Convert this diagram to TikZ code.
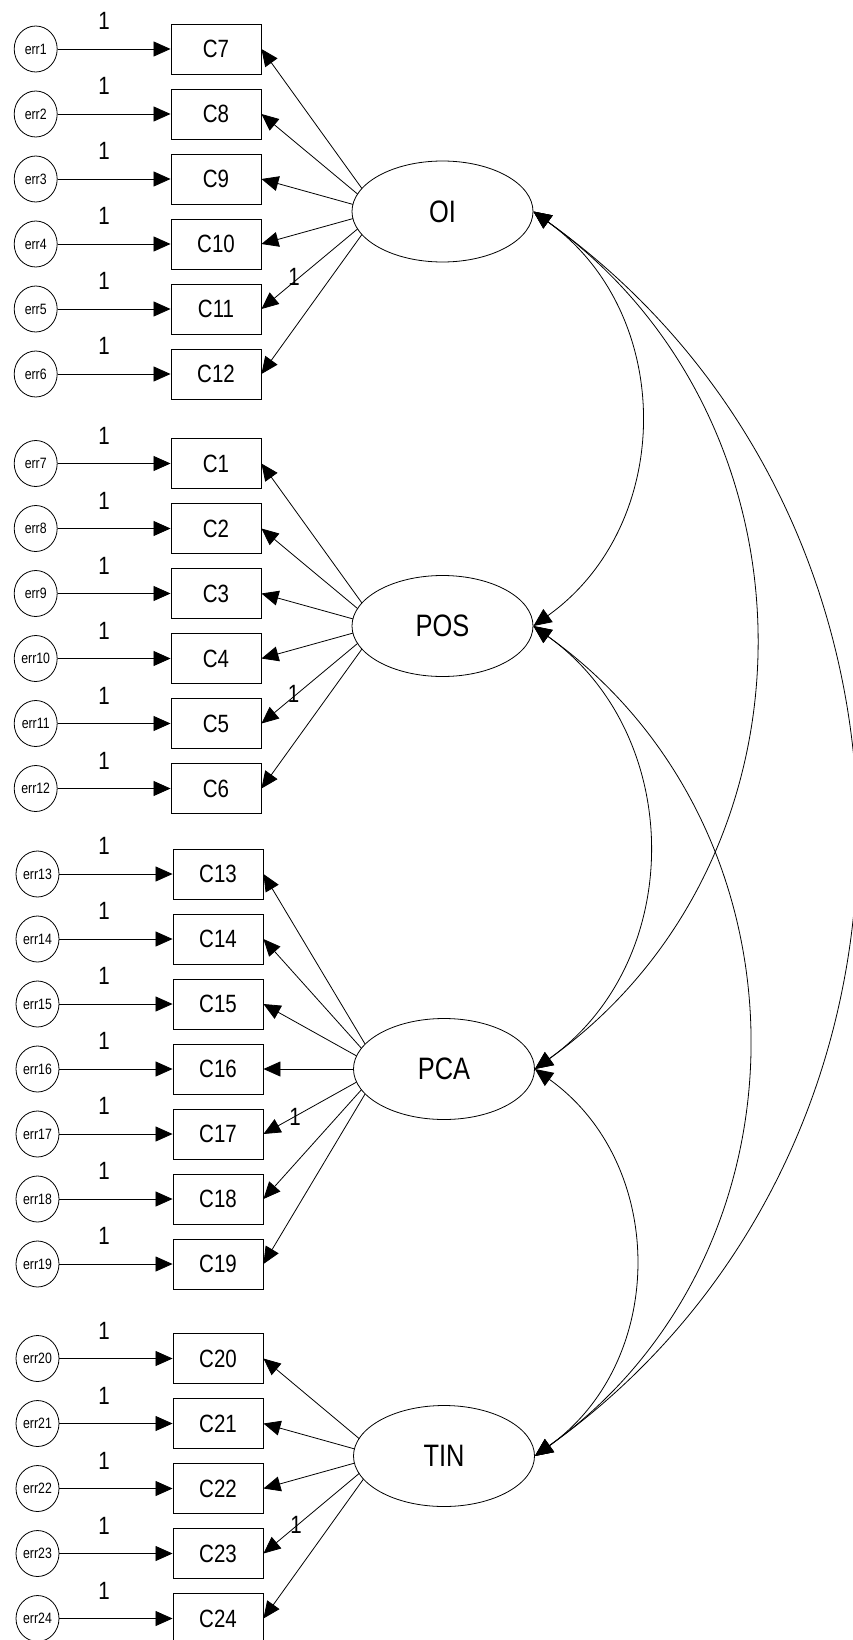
\documentclass[tikz,border=0pt]{standalone}
\usepackage{fontspec}
\setmainfont{Liberation Sans}[FakeStretch=0.82]
\usetikzlibrary{arrows.meta,backgrounds,calc,shapes.geometric}
\begin{document}
\begin{tikzpicture}[x=1pt,y=1pt,
  obs/.style={draw, line width=0.9pt, minimum width=90pt, minimum height=50pt, inner sep=0pt, fill=white, font=\fontsize{25}{25}\selectfont},
  errn/.style={draw, ellipse, line width=0.8pt, minimum width=43pt, minimum height=46pt, inner sep=0pt, fill=white, font=\fontsize{15}{15}\selectfont},
  lat/.style={draw, ellipse, line width=0.8pt, minimum width=181pt, minimum height=101pt, inner sep=0pt, fill=white, font=\fontsize{31}{31}\selectfont},
  one/.style={font=\fontsize{25}{25}\selectfont, inner sep=0pt},
  arr/.style={line width=0.8pt, -{Triangle[length=17pt,width=15pt]}},
  cov/.style={line width=0.8pt, {Triangle[length=18pt,width=16pt]}-{Triangle[length=18pt,width=16pt]}}
]
\useasboundingbox (0,0) rectangle (852,-1640);
\begin{pgfonlayer}{background}
  \fill[white] (0,0) rectangle (852,-1640);
\end{pgfonlayer}

% latent variables
\node[lat] (OI)  at (442.5,-211.5) {OI};
\node[lat] (POS) at (442.5,-626)   {POS};
\node[lat] (PCA) at (444,-1069)    {PCA};
\node[lat] (TIN) at (444,-1456)    {TIN};
\coordinate (OIf)  at (378.5,-211.5);
\coordinate (POSf) at (378.5,-626);
\coordinate (PCAf) at (380,-1069);
\coordinate (TINf) at (380,-1456);

% group 1
\foreach \c/\e [count=\k from 0] in {7/1,8/2,9/3,10/4,11/5,12/6}{
  \node[obs] (C\c) at (216,{-49-65*\k}) {C\c};
  \node[errn] (err\e) at (35.7,{-49-65*\k}) {err\e};
  \draw[arr] (err\e) -- (C\c);
  \node[one] (w\e) at (104,{-21-65*\k}) {1};
  \begin{pgfonlayer}{background}\draw[arr] (OIf) -- (C\c.east);\end{pgfonlayer}
}
% group 2
\foreach \c/\e [count=\k from 0] in {1/7,2/8,3/9,4/10,5/11,6/12}{
  \node[obs] (C\c) at (216,{-463.5-65*\k}) {C\c};
  \node[errn] (err\e) at (35.7,{-463.5-65*\k}) {err\e};
  \draw[arr] (err\e) -- (C\c);
  \node[one] (w\e) at (104,{-435.5-65*\k}) {1};
  \begin{pgfonlayer}{background}\draw[arr] (POSf) -- (C\c.east);\end{pgfonlayer}
}
% group 3
\foreach \c/\e [count=\k from 0] in {13/13,14/14,15/15,16/16,17/17,18/18,19/19}{
  \node[obs] (C\c) at (218,{-874-65*\k}) {C\c};
  \node[errn] (err\e) at (37.5,{-874-65*\k}) {err\e};
  \draw[arr] (err\e) -- (C\c);
  \node[one] (w\e) at (104,{-846-65*\k}) {1};
  \begin{pgfonlayer}{background}\draw[arr] (PCAf) -- (C\c.east);\end{pgfonlayer}
}
% group 4
\foreach \c/\e [count=\k from 0] in {20/20,21/21,22/22,23/23,24/24}{
  \node[obs] (C\c) at (218,{-1358.5-65*\k}) {C\c};
  \node[errn] (err\e) at (37.5,{-1358.5-65*\k}) {err\e};
  \draw[arr] (err\e) -- (C\c);
  \node[one] (w\e) at (104,{-1330.5-65*\k}) {1};
  \begin{pgfonlayer}{background}\draw[arr] (TINf) -- (C\c.east);\end{pgfonlayer}
}

% fixed loadings
\node[one] (fOI)  at (294,-277)    {1};
\node[one] (fPOS) at (293.5,-694)  {1};
\node[one] (fPCA) at (295,-1117)   {1};
\node[one] (fTIN) at (296,-1525)   {1};

% covariances (circular-like arcs)
\draw[cov] (OI.east)  .. controls +(-35.6:174.7) and +(35.6:174.7) .. (POS.east);
\draw[cov] (POS.east) .. controls +(-35.6:186.7) and +(35.6:186.7) .. (PCA.east);
\draw[cov] (PCA.east) .. controls +(-35.6:163.1) and +(35.6:163.1) .. (TIN.east);
\draw[cov] (OI.east)  .. controls +(-35.6:361.4) and +(35.6:361.4) .. (PCA.east);
\draw[cov] (POS.east) .. controls +(-35.6:349.8) and +(35.6:349.8) .. (TIN.east);
\draw[cov] (OI.east)  .. controls +(-35.6:524.6) and +(35.6:524.6) .. (TIN.east);
\end{tikzpicture}
\end{document}
